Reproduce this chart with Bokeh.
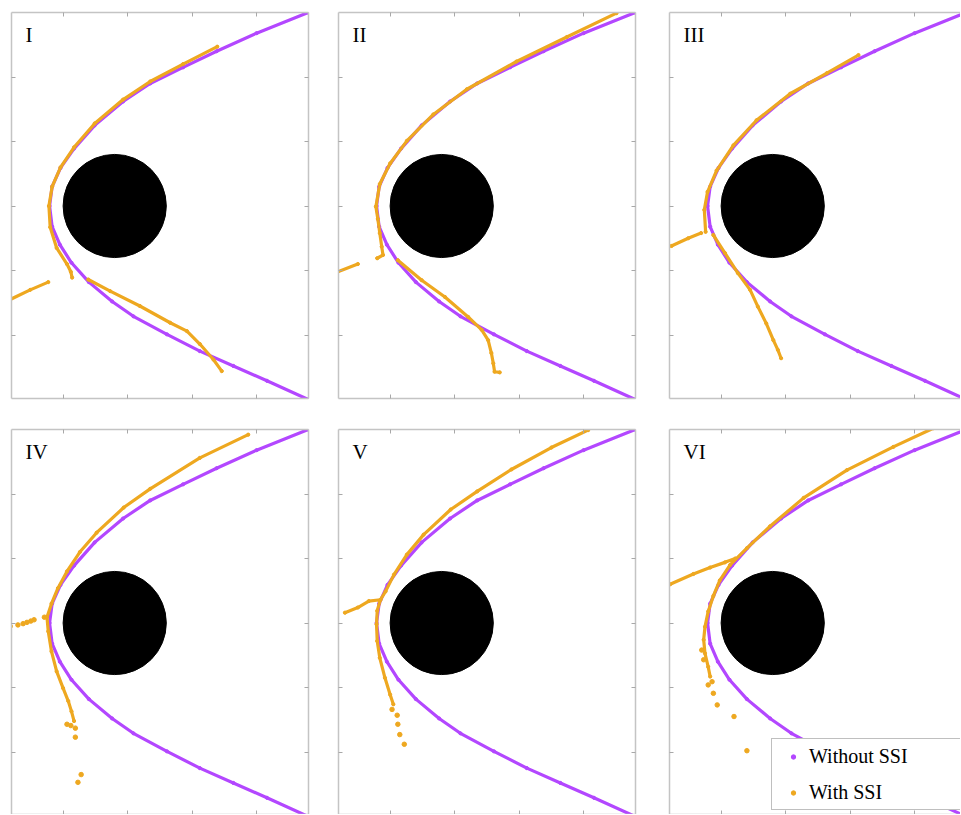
import math
from bokeh.plotting import figure
from bokeh.models import (Range1d, LinearAxis, FixedTicker, Label, Legend,
                          LegendItem)
from bokeh.layouts import column, row
from bokeh.embed import file_html
from bokeh.resources import INLINE

NaN = float("nan")

# ---------------- data ----------------
panel_labels = ["I", "II", "III", "IV", "V", "VI"]
x_ticks = [0, 1, 2, 3]
y_ticks = [-2, -1, 0, 1, 2]

body_x = [0.8]
body_y = [0.0]
body_r = [0.8]

# trajectory without SSI (same in every panel)
without_x = [3.80, 3.00, 2.38, 1.86, 1.35, 0.93, 0.49, 0.17, -0.04, -0.17,
             -0.21, -0.17, -0.05, 0.13, 0.40, 0.76, 1.09, 1.61, 2.12, 2.64, 3.16, 3.80]
without_y = [3.00, 2.68, 2.40, 2.15, 1.90, 1.62, 1.25, 0.89, 0.59, 0.30,
             0.00, -0.32, -0.60, -0.88, -1.18, -1.48, -1.71, -1.99, -2.25, -2.48, -2.71, -3.00]

# trajectories with SSI (segments separated by NaN)
with_I_x = [-0.82, -0.51, -0.23, NaN,
            2.39, 1.86, 1.35, 0.93, 0.49, 0.17, -0.04, -0.17, -0.22, -0.20, -0.10, 0.06, 0.12, 0.14, NaN,
            0.39, 0.73, 1.19, 1.66, 1.92, 2.12, 2.33, 2.46]
with_I_y = [-1.45, -1.30, -1.18, NaN,
            2.47, 2.20, 1.93, 1.65, 1.28, 0.91, 0.60, 0.30, 0.00, -0.33, -0.65, -0.90, -1.02, -1.11, NaN,
            -1.14, -1.32, -1.55, -1.81, -1.94, -2.14, -2.38, -2.56]

with_II_x = [-0.81, -0.50, NaN,
             3.51, 2.74, 1.96, 1.19, 0.67, 0.26, 0.00, -0.16, -0.22, -0.19, -0.16, -0.13, -0.11, -0.20, NaN,
             0.12, 0.49, 0.85, 1.21, 1.42, 1.52, 1.57, 1.60, 1.62, 1.70]
with_II_y = [-1.02, -0.90, NaN,
             2.99, 2.62, 2.24, 1.81, 1.42, 1.01, 0.66, 0.34, -0.01, -0.20, -0.42, -0.63, -0.76, -0.81, NaN,
             -0.84, -1.15, -1.41, -1.72, -1.92, -2.08, -2.28, -2.44, -2.57, -2.58]

with_III_x = [-0.77, -0.51, -0.31, NaN,
              2.13, 1.64, 1.07, 0.55, 0.19, -0.07, -0.21, -0.26, -0.24, NaN,
              -0.12, 0.06, 0.26, 0.45, 0.57, 0.70, 0.81, 0.88, 0.93]
with_III_y = [-0.62, -0.50, -0.42, NaN,
              2.34, 2.06, 1.74, 1.33, 0.94, 0.55, 0.22, -0.06, -0.40, NaN,
              -0.45, -0.73, -1.04, -1.30, -1.56, -1.82, -2.08, -2.23, -2.36]

with_IV_x = [2.87, 2.12, 1.35, 0.94, 0.52, 0.26, 0.06, -0.08, -0.18, -0.25, -0.23, -0.18, -0.10,
             0.00, 0.08, 0.13, 0.17]
with_IV_y = [2.92, 2.56, 2.08, 1.79, 1.40, 1.10, 0.80, 0.54, 0.30, 0.09, -0.13, -0.44, -0.75,
             -1.01, -1.21, -1.37, -1.52]
dots_IV_x = [-0.82, -0.70, -0.62, -0.56, -0.50, -0.45, -0.29,
             0.06, 0.12, 0.19, 0.19, 0.28, 0.23]
dots_IV_y = [-0.05, -0.03, -0.01, 0.01, 0.03, 0.05, 0.09,
             -1.57, -1.59, -1.63, -1.77, -2.35, -2.47]

with_V_x = [-0.70, -0.50, -0.33, -0.15, NaN,
            3.07, 2.50, 1.88, 1.35, 0.94, 0.52, 0.26, 0.06, -0.07, -0.15, -0.20, -0.21, -0.20, -0.16,
            -0.08, 0.00, 0.05]
with_V_y = [0.16, 0.24, 0.34, 0.36, NaN,
            2.99, 2.72, 2.38, 2.04, 1.76, 1.37, 1.06, 0.75, 0.49, 0.36, 0.19, -0.02, -0.28, -0.54,
            -0.85, -1.11, -1.26]
dots_V_x = [0.03, 0.11, 0.12, 0.15, 0.22]
dots_V_y = [-1.34, -1.43, -1.57, -1.73, -1.88]

with_VI_x = [-0.79, -0.43, -0.17, 0.06, 0.22, NaN,
             3.29, 2.67, 1.95, 1.28, 0.76, 0.40, 0.14, -0.02, -0.12, -0.20, -0.25, -0.27,
             -0.25, -0.20, -0.17]
with_VI_y = [0.60, 0.76, 0.86, 0.94, 1.00, NaN,
             3.02, 2.73, 2.37, 1.94, 1.50, 1.16, 0.90, 0.66, 0.42, 0.18, -0.06, -0.26,
             -0.47, -0.68, -0.83]
dots_VI_x = [-0.30, -0.27, -0.14, -0.20, -0.12, -0.06, 0.20, 0.40]
dots_VI_y = [-0.42, -0.57, -0.91, -0.96, -1.09, -1.27, -1.45, -1.98]

legend_labels = ["Without SSI", "With SSI"]

# ---------------- style ----------------
PURPLE = "#B347FF"
ORANGE = "#EEA820"
FRAME = "#C4C4C4"
TICK = "#A8A8A8"
SERIF = "Liberation Serif"
UNIT = 64.5          # pixels per data unit

col_geo = [  # (fig width, border left, frame width, border right)
    (335, 11, 297, 27),
    (330, 3, 297, 30),
    (295, 4, 291, 0),
]
row_geo = [  # (fig height, border top, frame height, border bottom)
    (425, 12, 386, 27),
    (389, 4, 385, 0),
]
Y_TOP = 3.0
X_LEFT = -0.8

series = [
    (with_I_x, with_I_y, [], []),
    (with_II_x, with_II_y, [], []),
    (with_III_x, with_III_y, [], []),
    (with_IV_x, with_IV_y, dots_IV_x, dots_IV_y),
    (with_V_x, with_V_y, dots_V_x, dots_V_y),
    (with_VI_x, with_VI_y, dots_VI_x, dots_VI_y),
]


def style_axis(ax, ticks):
    ax.ticker = FixedTicker(ticks=ticks)
    ax.major_tick_in = 4
    ax.major_tick_out = 0
    ax.minor_tick_in = 0
    ax.minor_tick_out = 0
    ax.major_label_text_font_size = "0px"
    ax.major_label_text_color = None
    ax.major_label_standoff = 0
    ax.axis_line_color = FRAME
    ax.axis_line_width = 1.5
    ax.major_tick_line_color = TICK
    ax.major_tick_line_width = 1


def make_panel(i):
    r, c = divmod(i, 3)
    fw, bl, frw, br = col_geo[c]
    fh, bt, frh, bb = row_geo[r]
    x_rng = Range1d(X_LEFT, X_LEFT + frw / UNIT)
    y_rng = Range1d(Y_TOP - frh / UNIT, Y_TOP)
    p = figure(width=fw, height=fh, x_range=x_rng, y_range=y_rng,
               output_backend="svg", toolbar_location=None,
               min_border_left=bl, min_border_right=br,
               min_border_top=bt, min_border_bottom=bb,
               background_fill_color="white", border_fill_color="white",
               outline_line_color=None)
    p.grid.visible = False
    style_axis(p.xaxis[0], x_ticks)
    style_axis(p.yaxis[0], y_ticks)
    top_ax = LinearAxis()
    style_axis(top_ax, x_ticks)
    p.add_layout(top_ax, "above")
    if c < 2:
        right_ax = LinearAxis()
        style_axis(right_ax, y_ticks)
        p.add_layout(right_ax, "right")

    # central body
    p.circle(x=body_x, y=body_y, radius=body_r, fill_color="black",
             line_color="black")

    # without SSI
    p.line(without_x, without_y, line_color=PURPLE, line_width=3.2,
           line_join="round")
    r_without = p.scatter(without_x, without_y, size=3.2, color=PURPLE)

    # with SSI
    wx, wy, dx, dy = series[i]
    p.line(wx, wy, line_color=ORANGE, line_width=3.2, line_join="round",
           line_cap="round")
    pts_x = [v for v in wx if not math.isnan(v)]
    pts_y = [v for v in wy if not math.isnan(v)]
    r_with = p.scatter(pts_x, pts_y, size=3.2, color=ORANGE)
    if dx:
        p.scatter(dx, dy, size=4.5, color=ORANGE)

    p.add_layout(Label(x=X_LEFT + 14 / UNIT, y=Y_TOP - 10 / UNIT,
                       text=panel_labels[i], text_font=SERIF,
                       text_font_size="21px", text_color="black",
                       text_baseline="top", text_align="left"))

    if i == 5:
        legend = Legend(items=[
            LegendItem(label=legend_labels[0], renderers=[r_without]),
            LegendItem(label=legend_labels[1], renderers=[r_with]),
        ], location=(102, 4))
        legend.margin = 0
        legend.padding = 5
        legend.spacing = 12
        legend.glyph_width = 32
        legend.glyph_height = 11
        legend.label_height = 24
        legend.label_width = 170
        legend.label_standoff = 0
        legend.label_text_font = SERIF
        legend.label_text_font_size = "20px"
        legend.label_text_color = "black"
        legend.border_line_color = "#7F7F7F"
        legend.border_line_width = 1.2
        legend.background_fill_color = "white"
        legend.background_fill_alpha = 1.0
        p.add_layout(legend)
    return p


panels = [make_panel(i) for i in range(6)]
layout = column(row(*panels[:3]), row(*panels[3:]))

open("out.html", "w").write(file_html(layout, INLINE))
